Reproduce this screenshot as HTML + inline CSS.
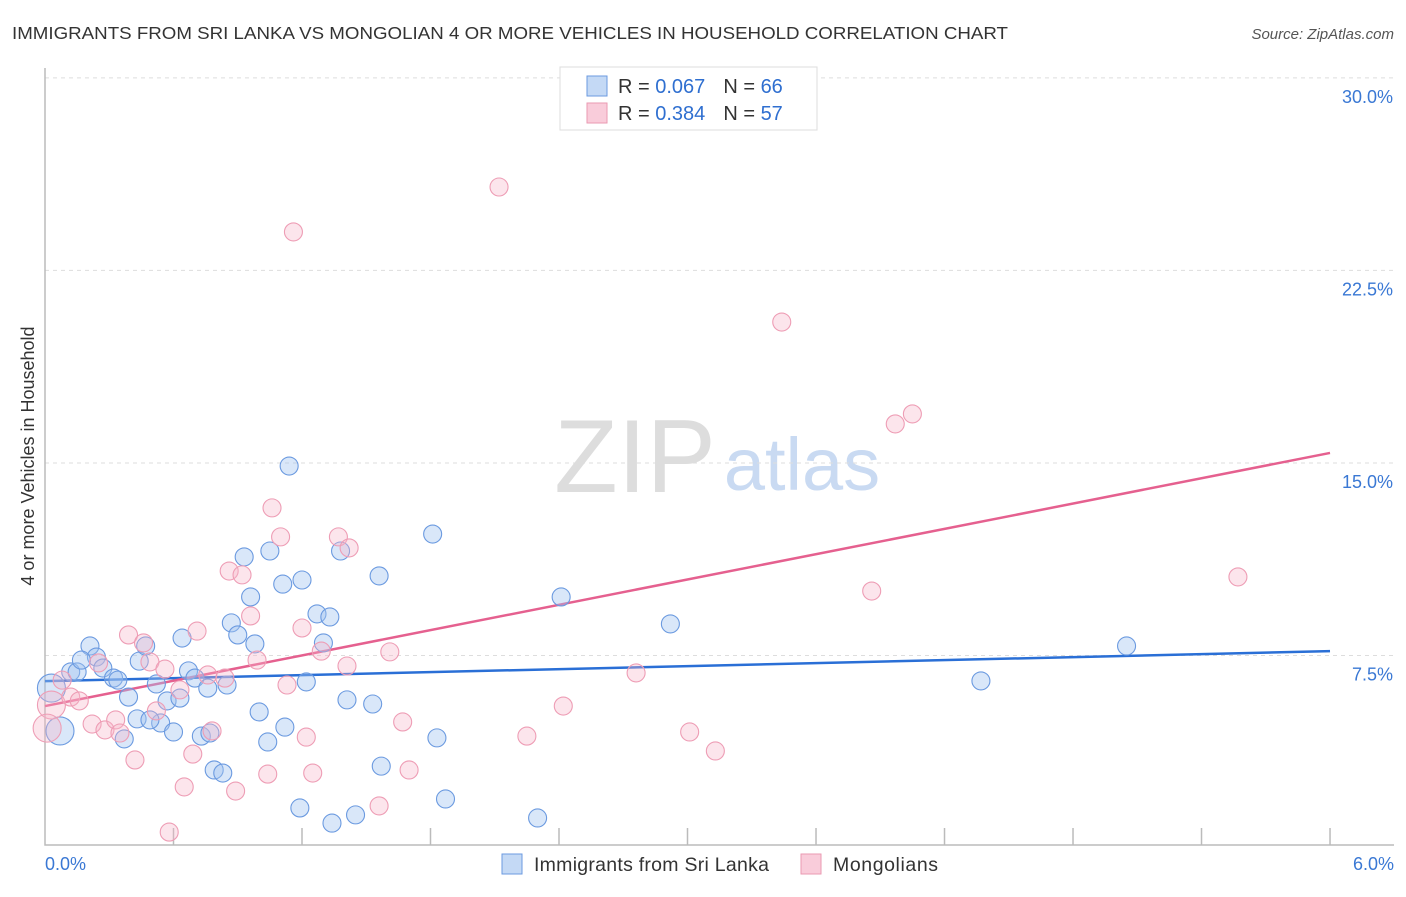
<!DOCTYPE html>
<html><head><meta charset="utf-8"><style>
body{margin:0;background:#fff;font-family:"Liberation Sans",sans-serif}
svg text{font-family:"Liberation Sans",sans-serif}
</style></head><body>
<svg id="chart" width="1406" height="892" xmlns="http://www.w3.org/2000/svg">
<text x="12" y="39" font-size="17.5" fill="#333" textLength="996" lengthAdjust="spacingAndGlyphs">IMMIGRANTS FROM SRI LANKA VS MONGOLIAN 4 OR MORE VEHICLES IN HOUSEHOLD CORRELATION CHART</text>
<text x="1394" y="39" font-size="15" fill="#555" text-anchor="end" font-style="italic">Source: ZipAtlas.com</text>
<g>
<text x="635" y="492" font-size="104" fill="#ddd" font-family="Liberation Serif" text-anchor="middle">ZIP</text>
<text x="802" y="490" font-size="74" fill="#c9daf2" text-anchor="middle">atlas</text></g>
<g id="grid"></g><g id="axes"></g><g id="trends"></g><g id="points"></g>
<text transform="translate(34,456) rotate(-90)" font-size="18" fill="#333" text-anchor="middle">4 or more Vehicles in Household</text>
<text x="45" y="870" font-size="18" fill="#3a78d4">0.0%</text>
<text x="1394" y="870" font-size="18" fill="#3a78d4" text-anchor="end">6.0%</text>
<g>
<rect x="560" y="67" width="257" height="63" fill="#fff" stroke="#ddd"/>
<rect x="587" y="76" width="20" height="20" fill="#c4d9f5" stroke="#6b9ae0"/>
<rect x="587" y="103" width="20" height="20" fill="#f9ccda" stroke="#ea9ab2"/>
<text x="618" y="93" font-size="20" fill="#333">R = <tspan fill="#2f6fd0">0.067</tspan><tspan dx="18">N = </tspan><tspan fill="#2f6fd0">66</tspan></text>
<text x="618" y="120" font-size="20" fill="#333">R = <tspan fill="#2f6fd0">0.384</tspan><tspan dx="18">N = </tspan><tspan fill="#2f6fd0">57</tspan></text>
</g>
<g>
<rect x="502" y="854" width="20" height="20" fill="#c4d9f5" stroke="#6b9ae0"/>
<text x="534" y="871" font-size="19.5" fill="#333" textLength="235">Immigrants from Sri Lanka</text>
<rect x="801" y="854" width="20" height="20" fill="#f9ccda" stroke="#ea9ab2"/>
<text x="833" y="871" font-size="19.5" fill="#333" textLength="105">Mongolians</text>
</g>
</svg>
<script>
const yTicks=[7.5,15,22.5,30];
const yTickLabels=["7.5%","15.0%","22.5%","30.0%"];
const xTicks=[0.6,1.2,1.8,2.4,3.0,3.6,4.2,4.8,5.4,6.0];
const blueX=[0.03,0.07,0.12,0.15,0.21,0.24,0.17,0.27,0.32,0.34,0.39,0.37,0.43,0.44,0.47,0.52,0.54,0.49,0.57,0.60,0.63,0.64,0.67,0.70,0.73,0.76,0.77,0.79,0.83,0.85,0.87,0.90,0.93,0.96,0.98,1.00,1.04,1.05,1.11,1.12,1.19,1.20,1.22,1.27,1.33,1.30,1.34,1.38,1.41,1.45,1.53,1.56,1.57,1.81,1.83,1.87,2.30,2.41,2.92,4.37,5.05,1.14];
const blueY=[6.23,4.56,6.86,6.86,7.87,7.44,7.32,7.01,6.62,6.54,5.88,4.25,5.03,7.28,7.87,6.39,4.87,4.99,5.73,4.52,5.84,8.18,6.90,6.62,4.36,6.23,4.48,3.04,2.92,6.35,8.77,8.30,11.34,9.78,7.95,5.30,4.13,11.57,10.28,4.71,1.56,10.44,6.47,9.12,9.00,7.99,0.97,11.57,5.77,1.29,5.61,10.60,3.19,12.23,4.29,1.91,1.17,9.78,8.73,6.51,7.87,14.88];
const pinkX=[0.03,0.01,0.08,0.12,0.16,0.22,0.25,0.28,0.33,0.35,0.39,0.42,0.46,0.49,0.52,0.56,0.63,0.65,0.69,0.71,0.76,0.78,0.84,0.86,0.89,0.92,0.96,0.99,1.04,1.06,1.10,1.13,1.16,1.20,1.22,1.25,1.29,1.37,1.41,1.42,1.56,1.61,1.67,1.70,0.58,2.12,2.25,2.42,2.76,3.01,3.13,3.44,3.86,3.97,4.05,5.57];
const pinkY=[5.57,4.67,6.54,5.88,5.73,4.83,7.21,4.60,4.99,4.48,8.30,3.43,7.99,7.25,5.34,6.97,6.16,2.38,3.66,8.45,6.74,4.56,6.62,10.79,2.22,10.64,9.04,7.32,2.88,13.25,12.12,6.35,24.0,8.57,4.32,2.92,7.67,12.12,7.09,11.69,1.64,7.64,4.91,3.04,0.62,25.75,4.36,5.53,6.82,4.52,3.78,20.49,10.01,16.52,16.91,10.56];
const blueTrend=[6.5,7.67];
const pinkTrend=[5.53,15.39];
const bigBlue=[0,1], bigPink=[0,1];
const NS="http://www.w3.org/2000/svg";
const X=v=>45+v*214.17, Y=v=>848-v*25.67;
function mk(t,a,p){const e=document.createElementNS(NS,t);for(const k in a)e.setAttribute(k,a[k]);p.appendChild(e);return e;}
const grid=document.getElementById('grid'),axes=document.getElementById('axes'),tr=document.getElementById('trends'),pts=document.getElementById('points');
yTicks.forEach((v,i)=>{
 const l=mk('line',{x1:45,x2:1394,y1:Y(v),y2:Y(v),stroke:'#ddd','stroke-dasharray':'4,4'},grid);
 
 
 const t=mk('text',{x:1393,y:Y(v)+25,'font-size':18,fill:'#3a78d4','text-anchor':'end'},grid);
 t.textContent=yTickLabels[i];
 
 
});
const ax=mk('path',{d:'M45,68V845H1394',fill:'none',stroke:'#bbb','stroke-width':1.5},axes);


xTicks.forEach(v=>{
 const t=mk('line',{x1:X(v),x2:X(v),y1:828,y2:845,stroke:'#bbb','stroke-width':1.5},axes);
 
 
});
function dots(xs,ys,big,fill,stroke,name){
 xs.forEach((x,i)=>{
  const c=mk('circle',{cx:X(x),cy:Y(ys[i]),r:big.includes(i)?14:9,fill:fill,stroke:stroke,'stroke-width':1.1},pts);
  
  
 });
}
dots(blueX,blueY,bigBlue,'rgba(160,196,240,0.4)','#6b9ae0','sri-lanka-point');
dots(pinkX,pinkY,bigPink,'rgba(246,180,200,0.35)','#ee9db5','mongolian-point');
const bl=mk('line',{x1:X(0),y1:Y(blueTrend[0]),x2:X(6),y2:Y(blueTrend[1]),stroke:'#2a6fd6','stroke-width':2.5},tr);


const pl=mk('line',{x1:X(0),y1:Y(pinkTrend[0]),x2:X(6),y2:Y(pinkTrend[1]),stroke:'#e5608f','stroke-width':2.5},tr);


</script>
</body></html>
